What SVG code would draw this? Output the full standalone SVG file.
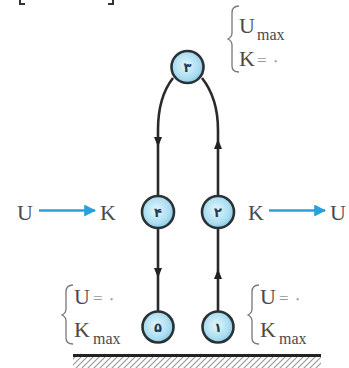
<svg xmlns="http://www.w3.org/2000/svg" width="349" height="368" viewBox="0 0 349 368">
<style>
.t{font-family:"Liberation Serif","Times New Roman",serif;fill:#4a4a4a}
.big{font-size:22px}
.sub{font-size:16px}
.eq{font-size:17px;fill:#999}
.d{font-family:"DejaVu Sans","Noto Sans",sans-serif;font-size:13px;fill:#1f3d55;text-anchor:middle;font-weight:bold}
.ln{stroke:#2a2a2a;stroke-width:2.6;fill:none}
.ball{fill:url(#g);stroke:#2a3236;stroke-width:2.6}
.br{stroke:#777;stroke-width:1.3;fill:none}
.bl{stroke:#2b9fd8;stroke-width:2.4;fill:none}
</style>
<defs>
<radialGradient id="g" cx="0.45" cy="0.45" r="0.6">
<stop offset="0" stop-color="#e4f6fc"/>
<stop offset="0.7" stop-color="#a9dcf0"/>
<stop offset="1" stop-color="#7cc4e3"/>
</radialGradient>
<marker id="ab" viewBox="0 0 10 10" refX="9" refY="5" markerWidth="5" markerHeight="5" orient="auto"><path d="M0,0L10,5L0,10z" fill="#2b9fd8"/></marker>
<pattern id="h" width="6" height="6" patternUnits="userSpaceOnUse"><path d="M-1,7L7,-1M5,7L7,5M-1,1L1,-1" stroke="#999" stroke-width="1.2"/></pattern>
</defs>
<path d="M20,0V4H25M113,0V4H108" stroke="#333" stroke-width="2" fill="none"/>
<g id="ground">
<rect x="73" y="357" width="248" height="11" fill="url(#h)"/>
<line x1="73" y1="355.5" x2="321" y2="355.5" stroke="#222" stroke-width="3"/>
</g>
<g id="connectors">
<path class="ln" d="M173,78C162,92 158,108 158,130V196"/>
<path class="ln" d="M202,78C213,92 218,108 218,130V196"/>
<line class="ln" x1="158" y1="228" x2="158" y2="311"/>
<line class="ln" x1="218" y1="228" x2="218" y2="311"/>
<path d="M154,137L162,137L158,147z" fill="#222"/>
<path d="M214,149L222,149L218,139z" fill="#222"/>
<path d="M154,268L162,268L158,278z" fill="#222"/>
<path d="M214,279L222,279L218,269z" fill="#222"/>
</g>
<g id="n3"><circle class="ball" cx="187.5" cy="67" r="16"/><text class="d" x="187.5" y="72">۳</text></g>
<g id="n4"><circle class="ball" cx="158" cy="212" r="16"/><text class="d" x="158" y="217">۴</text></g>
<g id="n2"><circle class="ball" cx="218" cy="212" r="16"/><text class="d" x="218" y="217">۲</text></g>
<g id="n5"><circle class="ball" cx="158" cy="327" r="15.5"/><text class="d" x="158" y="332">۵</text></g>
<g id="n1"><circle class="ball" cx="218" cy="327" r="15.5"/><text class="d" x="218" y="332">۱</text></g>
<g id="top-label">
<path class="br" d="M239,6C234,6 232,8 232,13V33C232,37 230,38 228,39C230,40 232,41 232,45V66C232,70 234,72 239,72"/>
<text class="t big" x="239" y="33">U</text><text class="t sub" x="257" y="40">max</text>
<text class="t big" x="239" y="66">K</text><text class="t eq" x="257" y="66">= ٠</text>
</g>
<g id="left-mid">
<text class="t big" x="17" y="220">U</text>
<line class="bl" x1="39" y1="210.5" x2="95" y2="210.5" marker-end="url(#ab)"/>
<text class="t big" x="100" y="220">K</text>
</g>
<g id="right-mid">
<text class="t big" x="248" y="220">K</text>
<line class="bl" x1="269" y1="210.5" x2="325" y2="210.5" marker-end="url(#ab)"/>
<text class="t big" x="330" y="220">U</text>
</g>
<g id="bl-label">
<path class="br" d="M73,285C68,285 66,287 66,292V309C66,313 64,314 62,315C64,316 66,317 66,321V338C66,342 68,344 73,344"/>
<text class="t big" x="74" y="304">U</text><text class="t eq" x="93" y="304">= ٠</text>
<text class="t big" x="74" y="337">K</text><text class="t sub" x="93" y="344">max</text>
</g>
<g id="br-label">
<path class="br" d="M259,285C254,285 252,287 252,292V309C252,313 250,314 248,315C250,316 252,317 252,321V338C252,342 254,344 259,344"/>
<text class="t big" x="260" y="304">U</text><text class="t eq" x="279" y="304">= ٠</text>
<text class="t big" x="260" y="337">K</text><text class="t sub" x="279" y="344">max</text>
</g>
</svg>
